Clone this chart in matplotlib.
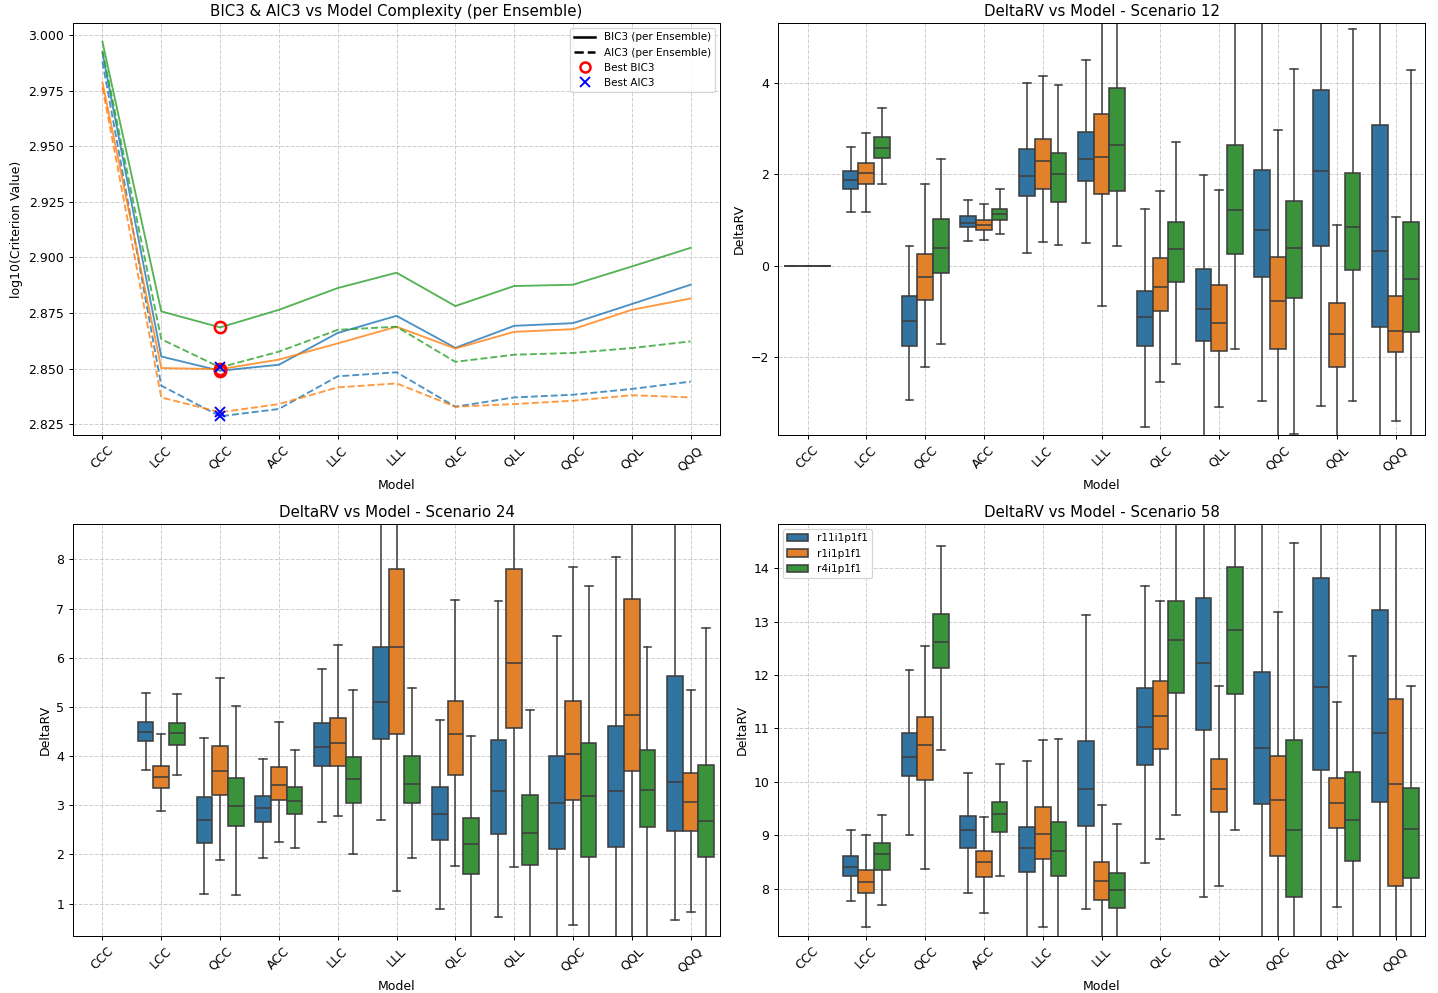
import numpy as np
import matplotlib.pyplot as plt
from matplotlib.lines import Line2D
from matplotlib.patches import Patch
from matplotlib.ticker import MultipleLocator

# ============================
# Data
# ============================
models = ["CCC", "LCC", "QCC", "ACC", "LLC", "LLL", "QLC", "QLL", "QQC", "QQL", "QQQ"]
ensembles = ["r11i1p1f1", "r1i1p1f1", "r4i1p1f1"]

# log10 criterion values per ensemble
bic3_r11 = [2.9920, 2.8554, 2.8490, 2.8517, 2.8660, 2.8737, 2.8593, 2.8692, 2.8704, 2.8790, 2.8877]
bic3_r1 = [2.9787, 2.8502, 2.8497, 2.8540, 2.8613, 2.8688, 2.8590, 2.8665, 2.8677, 2.8764, 2.8815]
bic3_r4 = [2.9970, 2.8757, 2.8685, 2.8764, 2.8862, 2.8931, 2.8781, 2.8871, 2.8877, 2.8959, 2.9043]
aic3_r11 = [2.9880, 2.8423, 2.8285, 2.8318, 2.8465, 2.8483, 2.8328, 2.8370, 2.8382, 2.8408, 2.8441]
aic3_r1 = [2.9765, 2.8370, 2.8303, 2.8340, 2.8415, 2.8433, 2.8328, 2.8340, 2.8355, 2.8380, 2.8370]
aic3_r4 = [2.9930, 2.8632, 2.8505, 2.8576, 2.8674, 2.8688, 2.8530, 2.8562, 2.8570, 2.8592, 2.8622]

# DeltaRV box statistics, one row per model: whislo, q1, median, q3, whishi
s12_r11 = [
    [0, 0, 0, 0, 0], [1.18, 1.69, 1.875, 2.07, 2.61], [-2.94, -1.77, -1.22, -0.66, 0.425],
    [0.535, 0.85, 0.94, 1.08, 1.436], [0.27, 1.52, 1.96, 2.55, 4.0], [0.49, 1.85, 2.33, 2.92, 4.51],
    [-3.55, -1.77, -1.13, -0.56, 1.25], [-4.2, -1.66, -0.96, -0.066, 1.99], [-2.97, -0.25, 0.78, 2.09, 6.0],
    [-3.07, 0.425, 2.07, 3.85, 7.3], [-5.0, -1.35, 0.315, 3.08, 7.5],
]
s12_r1 = [
    [0, 0, 0, 0, 0], [1.165, 1.80, 2.04, 2.24, 2.90], [-2.23, -0.76, -0.26, 0.264, 1.78],
    [0.57, 0.78, 0.886, 1.0, 1.36], [0.51, 1.69, 2.29, 2.77, 4.15], [-0.88, 1.57, 2.39, 3.33, 6.4],
    [-2.56, -1.0, -0.46, 0.17, 1.63], [-3.10, -1.87, -1.25, -0.43, 1.66], [-4.5, -1.83, -0.78, 0.18, 2.98],
    [-4.0, -2.23, -1.49, -0.82, 0.88], [-3.41, -1.89, -1.44, -0.66, 1.06],
]
s12_r4 = [
    [0, 0, 0, 0, 0], [1.78, 2.37, 2.57, 2.81, 3.46], [-1.71, -0.16, 0.39, 1.02, 2.33],
    [0.69, 1.0, 1.13, 1.25, 1.67], [0.45, 1.40, 2.0, 2.46, 3.96], [0.43, 1.63, 2.645, 3.89, 7.0],
    [-2.16, -0.37, 0.366, 0.96, 2.70], [-1.83, 0.25, 1.23, 2.64, 6.0], [-3.70, -0.71, 0.38, 1.41, 4.31],
    [-2.97, -0.10, 0.84, 2.03, 5.19], [-4.3, -1.46, -0.30, 0.96, 4.29],
]

s24_r11 = [
    [0, 0, 0, 0, 0], [3.71, 4.30, 4.49, 4.70, 5.29], [1.20, 2.24, 2.70, 3.16, 4.37],
    [1.93, 2.66, 2.94, 3.18, 3.95], [2.65, 3.80, 4.19, 4.68, 5.78], [2.69, 4.34, 5.10, 6.22, 9.5],
    [0.89, 2.30, 2.83, 3.37, 4.74], [0.73, 2.42, 3.285, 4.33, 7.15], [0.0, 2.10, 3.05, 4.01, 6.44],
    [-0.3, 2.15, 3.285, 4.62, 8.05], [0.66, 2.48, 3.47, 5.63, 9.5],
]
s24_r1 = [
    [0, 0, 0, 0, 0], [2.885, 3.36, 3.58, 3.80, 4.445], [1.89, 3.20, 3.70, 4.20, 5.58],
    [2.25, 3.10, 3.42, 3.78, 4.70], [2.78, 3.80, 4.26, 4.78, 6.26], [1.26, 4.445, 6.22, 7.80, 10.5],
    [1.77, 3.62, 4.445, 5.12, 7.17], [1.745, 4.57, 5.90, 7.81, 10.5], [0.56, 3.10, 4.05, 5.12, 7.85],
    [0.2, 3.69, 4.83, 7.19, 10.0], [0.82, 2.48, 3.07, 3.66, 5.35],
]
s24_r4 = [
    [0, 0, 0, 0, 0], [3.62, 4.23, 4.46, 4.68, 5.27], [1.18, 2.58, 2.98, 3.56, 5.01],
    [2.13, 2.83, 3.09, 3.38, 4.13], [2.01, 3.05, 3.53, 3.98, 5.35], [1.93, 3.05, 3.44, 4.01, 5.39],
    [0.1, 1.61, 2.22, 2.74, 4.40], [0.0, 1.79, 2.44, 3.21, 4.93], [-0.5, 1.95, 3.18, 4.26, 7.46],
    [0.2, 2.56, 3.31, 4.13, 6.22], [-0.2, 1.95, 2.68, 3.81, 6.61],
]

s58_r11 = [
    [0, 0, 0, 0, 0], [7.76, 8.24, 8.41, 8.61, 9.10], [9.0, 10.10, 10.47, 10.91, 12.10],
    [7.91, 8.75, 9.10, 9.36, 10.16], [6.9, 8.31, 8.75, 9.15, 10.39], [7.62, 9.175, 9.87, 10.77, 13.13],
    [8.48, 10.32, 11.025, 11.75, 13.66], [7.84, 10.975, 12.225, 13.44, 16.0], [6.5, 9.575, 10.625, 12.06, 15.2],
    [7.0, 10.225, 11.77, 13.81, 16.0], [6.8, 9.625, 10.91, 13.21, 15.5],
]
s58_r1 = [
    [0, 0, 0, 0, 0], [7.28, 7.925, 8.125, 8.35, 9.0], [8.36, 10.04, 10.69, 11.22, 12.54],
    [7.55, 8.21, 8.49, 8.71, 9.34], [7.28, 8.56, 9.02, 9.525, 10.79], [6.5, 7.79, 8.14, 8.49, 9.56],
    [8.93, 10.61, 11.24, 11.88, 13.39], [8.04, 9.425, 9.86, 10.43, 11.79], [6.8, 8.6, 9.66, 10.475, 13.19],
    [7.65, 9.125, 9.61, 10.075, 11.5], [6.5, 8.04, 9.96, 11.56, 15.0],
]
s58_r4 = [
    [0, 0, 0, 0, 0], [7.70, 8.34, 8.65, 8.86, 9.37], [10.59, 12.13, 12.61, 13.15, 14.41],
    [8.24, 9.05, 9.39, 9.62, 10.33], [6.8, 8.225, 8.71, 9.25, 10.81], [6.8, 7.64, 7.97, 8.29, 9.21],
    [9.375, 11.67, 12.65, 13.39, 15.5], [9.09, 11.65, 12.84, 14.03, 15.8], [6.0, 7.84, 9.09, 10.79, 14.47],
    [6.8, 8.52, 9.29, 10.19, 12.36], [7.0, 8.19, 9.11, 9.89, 11.79],
]

scenarios = [12, 24, 58]
scenario_stats = {
    12: [s12_r11, s12_r1, s12_r4],
    24: [s24_r11, s24_r1, s24_r4],
    58: [s58_r11, s58_r1, s58_r4],
}
scenario_ylim = {12: (-3.716, 5.32), 24: (0.34, 8.72), 58: (7.11, 14.83)}
scenario_ystep = {12: 2, 24: 1, 58: 1}

line_colors = ["C0", "C1", "C2"]
box_colors = ["#3274a1", "#e1812c", "#3a923a"]
edge_gray = (0.24, 0.24, 0.24)


def to_bxp_stats(rows):
    return [dict(whislo=r[0], q1=r[1], med=r[2], q3=r[3], whishi=r[4]) for r in rows]


fig, axes = plt.subplots(2, 2, figsize=(1438 / 90, 993 / 90), dpi=90)
fig.subplots_adjust(left=0.0508, right=0.991, top=0.9768, bottom=0.0574,
                    wspace=0.0898, hspace=0.216)
x = np.arange(len(models))

# ============================
# BIC3 / AIC3 curves
# ============================
ax = axes[0, 0]
bic_all = [bic3_r11, bic3_r1, bic3_r4]
aic_all = [aic3_r11, aic3_r1, aic3_r4]
for bic, aic, c in zip(bic_all, aic_all, line_colors):
    ax.plot(x, bic, color=c, lw=1.5, alpha=0.8)
    ax.plot(x, aic, color=c, lw=1.5, ls="--", alpha=0.8)
for bic, aic in zip(bic_all, aic_all):
    ib = int(np.argmin(bic))
    ia = int(np.argmin(aic))
    ax.plot(x[ib], bic[ib], "o", mfc="none", mec="red", ms=9, mew=2, zorder=5)
    ax.plot(x[ia], aic[ia], "x", color="blue", ms=8, mew=1.5, zorder=5)

handles = [
    Line2D([0], [0], color="black", lw=2),
    Line2D([0], [0], color="black", lw=2, ls="--"),
    Line2D([0], [0], marker="o", ls="none", mfc="none", mec="red", ms=8, mew=2),
    Line2D([0], [0], marker="x", ls="none", color="blue", ms=8, mew=1.5),
]
ax.legend(handles, ["BIC3 (per Ensemble)", "AIC3 (per Ensemble)", "Best BIC3", "Best AIC3"],
          loc="upper right", fontsize="small")
ax.set_xticks(x)
ax.set_xticklabels(models, rotation=45)
ax.set_xlim(-0.5, len(models) - 0.5)
ax.set_title("BIC3 & AIC3 vs Model Complexity (per Ensemble)", fontsize=12)
ax.set_xlabel("Model")
ax.set_ylabel("log10(Criterion Value)")
ax.grid(True, linestyle="--", alpha=0.6)

# ============================
# DeltaRV boxplots per scenario
# ============================
box_w = 0.8 / len(ensembles)
for ax, sc in zip([axes[0, 1], axes[1, 0], axes[1, 1]], scenarios):
    for k, (rows, col) in enumerate(zip(scenario_stats[sc], box_colors)):
        pos = x - 0.4 + box_w * (k + 0.5)
        ax.bxp(to_bxp_stats(rows), positions=pos, widths=box_w, capwidths=box_w / 2,
               showfliers=False, patch_artist=True,
               boxprops=dict(facecolor=col, edgecolor=edge_gray, linewidth=1.25),
               medianprops=dict(color=edge_gray, linewidth=1.25),
               whiskerprops=dict(color=edge_gray, linewidth=1.25),
               capprops=dict(color=edge_gray, linewidth=1.25))
    ax.set_xticks(x)
    ax.set_xticklabels(models, rotation=45)
    ax.set_xlim(-0.5, len(models) - 0.5)
    ax.set_ylim(*scenario_ylim[sc])
    ax.yaxis.set_major_locator(MultipleLocator(scenario_ystep[sc]))
    ax.set_title(f"DeltaRV vs Model - Scenario {sc}", fontsize=12)
    ax.set_xlabel("Model")
    ax.set_ylabel("DeltaRV")
    ax.grid(True, linestyle="--", alpha=0.6)

patches = [Patch(facecolor=c, edgecolor=edge_gray, linewidth=1.25) for c in box_colors]
axes[1, 1].legend(patches, ensembles, loc="upper left", fontsize="small")

plt.savefig("out.png", dpi=90)
plt.close()
